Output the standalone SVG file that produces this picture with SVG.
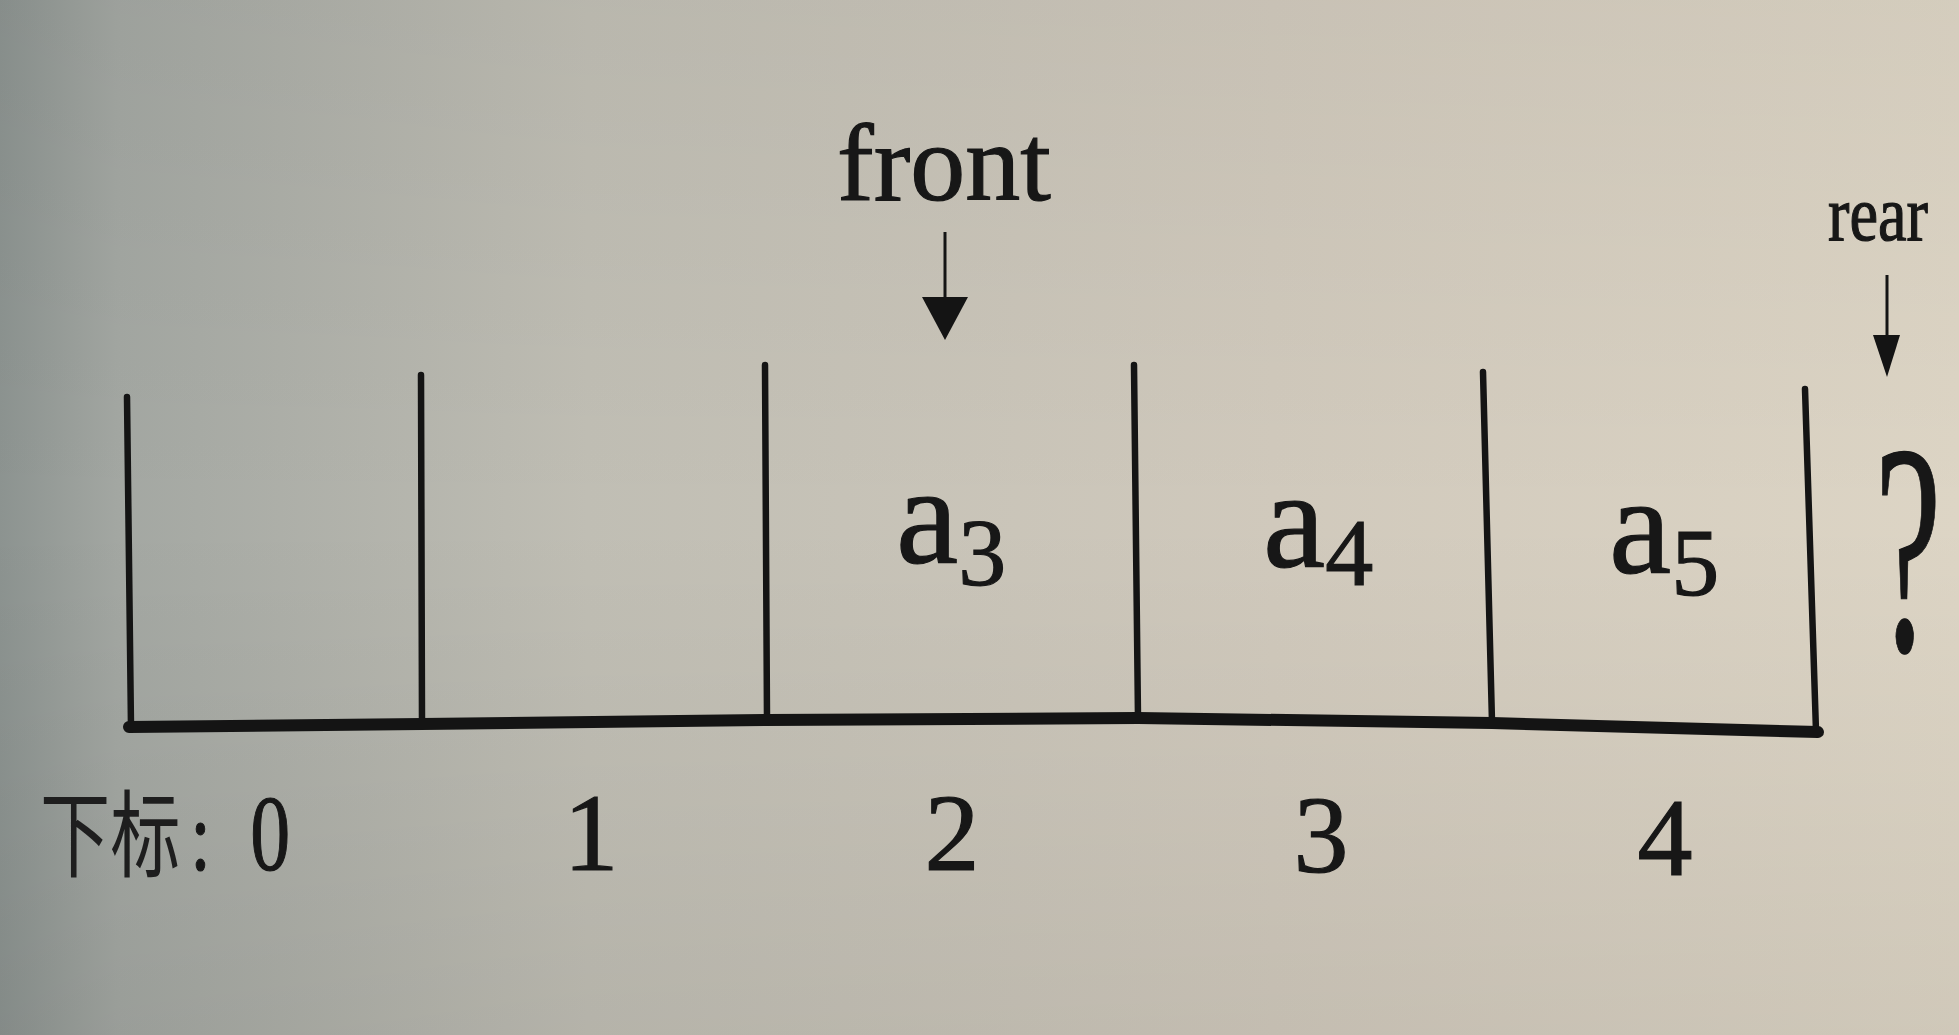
<svg xmlns="http://www.w3.org/2000/svg" width="1959" height="1035" viewBox="0 0 1959 1035">
  <defs>
    <linearGradient id="bg" x1="0" y1="0" x2="1" y2="0">
      <stop offset="0" stop-color="#8c9390"/>
      <stop offset="0.06" stop-color="#a3a7a2"/>
      <stop offset="0.3" stop-color="#c0beb4"/>
      <stop offset="0.65" stop-color="#d0c9bc"/>
      <stop offset="1" stop-color="#ddd5c5"/>
    </linearGradient>
    <linearGradient id="shade" x1="0" y1="0" x2="0" y2="1">
      <stop offset="0" stop-color="#000" stop-opacity="0.04"/>
      <stop offset="0.5" stop-color="#000" stop-opacity="0"/>
      <stop offset="1" stop-color="#000" stop-opacity="0.06"/>
    </linearGradient>
    <style>
      .ln { stroke: #141414; fill: none; stroke-linecap: round; }
      .wall { stroke-width: 6.5; }
      .base { stroke-width: 12; stroke-linejoin: round; }
      .shaft { stroke: #141414; stroke-width: 3; }
      .head { fill: #141414; }
      .t { font-family: "Liberation Serif", "Times New Roman", serif; fill: #171717; stroke: #171717; stroke-width: 1.2; }
      .cjk { font-family: "Noto Sans CJK SC", "Noto Sans CJK JP", sans-serif; fill: #1e1e1e; stroke: none; }
      .idx { font-size: 110px; text-anchor: middle; }
      .cell { font-size: 140px; }
    </style>
  </defs>
  <rect width="1959" height="1035" fill="url(#bg)"/>
  <rect width="1959" height="1035" fill="url(#shade)"/>

  <g id="array">
    <line class="ln wall" x1="127" y1="397" x2="131" y2="727"/>
    <line class="ln wall" x1="421" y1="375" x2="422" y2="722"/>
    <line class="ln wall" x1="765" y1="365" x2="767" y2="720"/>
    <line class="ln wall" x1="1134" y1="365" x2="1138" y2="718"/>
    <line class="ln wall" x1="1483" y1="372" x2="1492" y2="722"/>
    <line class="ln wall" x1="1805" y1="389" x2="1816" y2="731"/>
    <polyline class="ln base" points="129,727 422,724 767,720 1138,718 1492,723 1818,732"/>
  </g>

  <g id="cell-a3"><text class="t cell" x="896" y="563">a<tspan font-size="96" dy="22">3</tspan></text></g>
  <g id="cell-a4"><text class="t cell" x="1263" y="567">a<tspan font-size="96" dy="18">4</tspan></text></g>
  <g id="cell-a5"><text class="t cell" x="1609" y="573">a<tspan font-size="96" dy="22">5</tspan></text></g>

  <g id="label-front"><text class="t" x="944" y="200" font-size="110" text-anchor="middle">front</text></g>
  <g id="label-rear"><text class="t" x="1878" y="240" font-size="78" text-anchor="middle" textLength="100" lengthAdjust="spacingAndGlyphs" fill="#2a2a2a" stroke="#2a2a2a">rear</text></g>
  <g id="label-question"><text class="t" transform="translate(1908,650) scale(0.5,1)" font-size="300" text-anchor="middle" fill="#2a2a2a" stroke="none">?</text></g>

  <g id="connectors">
    <line class="shaft" x1="945" y1="232" x2="945" y2="300"/>
    <polygon class="head" points="922,297 968,297 945,340"/>
    <line class="shaft" x1="1887" y1="275" x2="1887" y2="338" stroke-width="2.5"/>
    <polygon class="head" points="1873,335 1900,335 1887,377"/>
  </g>

  <g id="indices">
    <text class="t" transform="translate(40,870) scale(0.74,1)" font-size="108"><tspan class="cjk" font-size="95">下标</tspan><tspan x="203" font-size="100">:</tspan><tspan x="284">0</tspan></text>
    <text class="t idx" x="591" y="870">1</text>
    <text class="t idx" x="952" y="870">2</text>
    <text class="t idx" x="1321" y="872">3</text>
    <text class="t idx" x="1665" y="875">4</text>
  </g>
</svg>
